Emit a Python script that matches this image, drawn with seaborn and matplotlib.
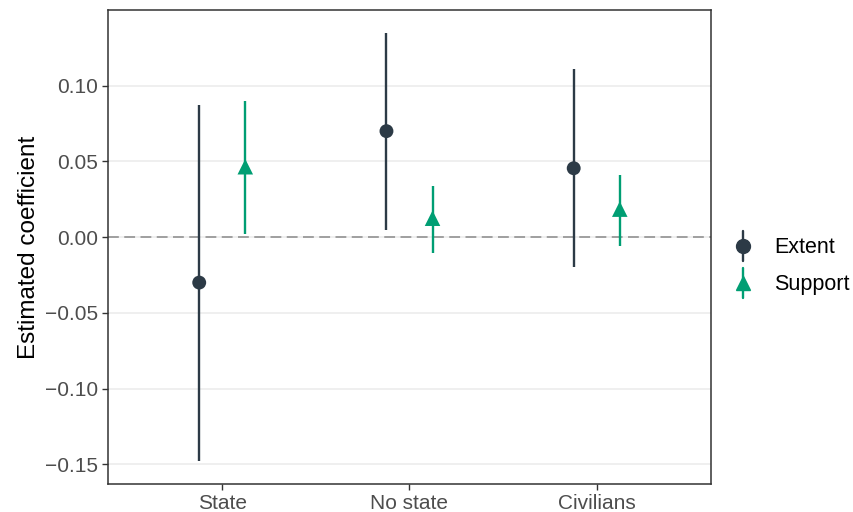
import matplotlib
matplotlib.use("Agg")
import matplotlib.pyplot as plt
from matplotlib.lines import Line2D
from matplotlib.legend_handler import HandlerBase
import seaborn as sns
import pandas as pd

categories = ["State", "No state", "Civilians"]
series = ["Extent", "Support"]
estimate_extent = [-0.030, 0.070, 0.0455]
lower_extent = [-0.148, 0.005, -0.020]
upper_extent = [0.087, 0.135, 0.111]
estimate_support = [0.0465, 0.0125, 0.0185]
lower_support = [0.002, -0.0105, -0.006]
upper_support = [0.090, 0.034, 0.041]
ytick_values = [-0.15, -0.10, -0.05, 0.00, 0.05, 0.10]
ytick_labels = ["\u22120.15", "\u22120.10", "\u22120.05", "0.00", "0.05", "0.10"]

colors = {"Extent": "#2C3A46", "Support": "#009E73"}
markers = {"Extent": "o", "Support": "^"}
marker_sizes = {"Extent": 100, "Support": 125}
offsets = {"Extent": -0.123, "Support": 0.123}

rows = []
for s, est, lo, hi in [("Extent", estimate_extent, lower_extent, upper_extent),
                       ("Support", estimate_support, lower_support, upper_support)]:
    for i, c in enumerate(categories):
        rows.append({"category": c, "series": s, "estimate": est[i], "lower": lo[i],
                     "upper": hi[i], "xpos": i + offsets[s]})
df = pd.DataFrame(rows)

sns.set_theme(style="white")
plt.rcParams["font.family"] = ["Liberation Sans", "DejaVu Sans"]

fig = plt.figure(figsize=(8.54, 5.12), dpi=100)
ax = fig.add_axes([0.1265, 0.0547, 0.706, 0.9258])

for y in ytick_values:
    ax.axhline(y, color="#EBEBEB", lw=1.1, zorder=0)
ax.axhline(0, color="#999999", lw=1.3, ls=(0, (6, 3)), zorder=1)

for s in series:
    d = df[df.series == s]
    ax.vlines(d.xpos, d.lower, d.upper, color=colors[s], lw=1.7, zorder=2)

sns.scatterplot(data=df, x="xpos", y="estimate", hue="series", style="series",
                size="series", sizes=marker_sizes,
                palette=colors, markers=markers, edgecolor="none",
                legend=False, ax=ax, zorder=3)

ax.set_xlim(-0.61, 2.61)
ax.set_ylim(-0.163, 0.150)
ax.set_xticks(range(len(categories)))
ax.set_xticklabels(categories)
ax.set_yticks(ytick_values)
ax.set_yticklabels(ytick_labels)
ax.set_xlabel("")
ax.set_ylabel("Estimated coefficient", fontsize=17.5, color="black", labelpad=4)
ax.tick_params(axis="both", labelsize=15, labelcolor="#4D4D4D", color="#333333",
               length=4, width=1, direction="out", bottom=True, left=True, pad=3)
for sp in ax.spines.values():
    sp.set_color("#333333")
    sp.set_linewidth(1.1)


class PointRange(HandlerBase):
    def create_artists(self, legend, orig, xd, yd, w, h, fontsize, trans):
        cx = xd + w / 2
        cy = yd + h / 2
        line = Line2D([cx, cx], [cy - 15 * 0.72, cy + 15 * 0.72], color=orig.get_color(),
                      lw=1.7, transform=trans)
        pt = Line2D([cx], [cy], marker=orig.get_marker(), color=orig.get_color(),
                    markersize=10, linestyle="none", transform=trans)
        return [line, pt]


handles = [Line2D([0], [0], color=colors[s], marker=markers[s], linestyle="none")
           for s in series]
leg = fig.legend(handles, series, handler_map={Line2D: PointRange()}, frameon=False,
                 loc="center left", bbox_to_anchor=(0.857, 0.480), fontsize=15.5,
                 handlelength=1.0, labelspacing=0.75, handletextpad=0.95,
                 borderpad=0, borderaxespad=0, labelcolor="black")

fig.savefig("out.png", dpi=100)
